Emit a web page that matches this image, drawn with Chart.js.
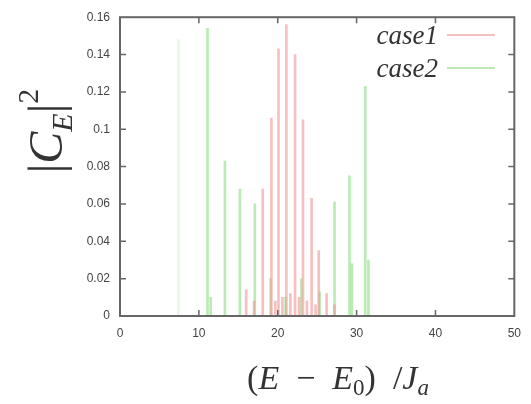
<!DOCTYPE html>
<html>
<head>
<meta charset="utf-8">
<script src="https://cdn.jsdelivr.net/npm/chart.js@4.4.1/dist/chart.umd.min.js"></script>
<style>
  html, body { margin: 0; padding: 0; background: #ffffff; }
  #wrap { width: 531px; height: 404px; position: relative; }
</style>
</head>
<body>
<div id="wrap"><canvas id="c" width="531" height="404"></canvas></div>
<script>
// ---- data ----
const seriesNames = ["case1", "case2"];
const case1X = [16.0, 17.0, 18.1, 19.2, 19.7, 20.1, 20.6, 21.1, 21.6, 22.2, 22.7, 23.2, 23.7, 24.3, 24.8, 25.2, 26.2, 27.2];
const case1Y = [0.014, 0.008, 0.068, 0.106, 0.008, 0.143, 0.010, 0.156, 0.012, 0.140, 0.010, 0.105, 0.008, 0.063, 0.006, 0.035, 0.012, 0.006];
const case2X = [7.4, 11.1, 11.5, 13.3, 15.2, 17.1, 19.1, 21.0, 23.0, 25.3, 27.2, 29.1, 29.4, 31.1, 31.5];
const case2Y = [0.148, 0.154, 0.010, 0.083, 0.068, 0.060, 0.020, 0.010, 0.020, 0.013, 0.061, 0.075, 0.028, 0.123, 0.030];
const xTicks = [0, 10, 20, 30, 40, 50];
const yTicks = [0, 0.02, 0.04, 0.06, 0.08, 0.1, 0.12, 0.14, 0.16];

const toPoints = (xs, ys) => xs.map((x, i) => ({ x: x, y: ys[i] }));

const colors = ["rgba(240,150,150,0.6)", "rgba(150,225,140,0.65)"];
const faintGreen = "rgba(150,225,140,0.22)";
const axisColor = "#666666";
const tickFont = { family: "'Liberation Sans', Arial, sans-serif", size: 12 };

const framePlugin = {
  id: 'frame',
  afterDraw(chart) {
    const ctx = chart.ctx, a = chart.chartArea;
    const xs = chart.scales.x, ys = chart.scales.y;
    ctx.save();
    ctx.strokeStyle = axisColor;
    ctx.lineWidth = 2;
    ctx.strokeRect(a.left, a.top, a.right - a.left, a.bottom - a.top);
    ctx.lineWidth = 1.5;
    const L = 6;
    ctx.beginPath();
    xTicks.forEach(v => {
      const p = xs.getPixelForValue(v);
      if (v === xTicks[0] || v === xTicks[xTicks.length - 1]) return;
      ctx.moveTo(p, a.bottom); ctx.lineTo(p, a.bottom - L);
      ctx.moveTo(p, a.top); ctx.lineTo(p, a.top + L);
    });
    yTicks.forEach(v => {
      const p = ys.getPixelForValue(v);
      if (v === yTicks[0] || v === yTicks[yTicks.length - 1]) return;
      ctx.moveTo(a.left, p); ctx.lineTo(a.left + L, p);
      ctx.moveTo(a.right, p); ctx.lineTo(a.right - L, p);
    });
    ctx.stroke();

    // legend (text left of sample line, gnuplot style)
    const ds = chart.data.datasets;
    const legendRows = [
      { base: 44, lineY: 35 },
      { base: 77, lineY: 68 }
    ];
    ctx.font = "italic 27px 'Liberation Serif', 'Times New Roman', serif";
    ctx.fillStyle = "#333333";
    ctx.textAlign = "right";
    ctx.textBaseline = "alphabetic";
    ds.forEach((d, i) => {
      const r = legendRows[i];
      ctx.fillText(d.label, 438, r.base);
      ctx.strokeStyle = colors[i];
      ctx.lineWidth = 2;
      ctx.beginPath();
      ctx.moveTo(447, r.lineY); ctx.lineTo(495, r.lineY);
      ctx.stroke();
    });

    // y axis title |C_E|^2
    const serif = "'Liberation Serif', 'Times New Roman', serif";
    const ypieces = [
      { t: "|", f: "48px " + serif, dy: 0 },
      { t: "C", f: "italic 48px " + serif, dy: 0 },
      { t: "E", f: "italic 30px " + serif, dy: 10 },
      { t: "|", f: "48px " + serif, dy: 0 },
      { t: "2", f: "30px " + serif, dy: -24 }
    ];
    drawPieces(ctx, ypieces, 62, 131, -Math.PI / 2);

    // x axis title (E - E0)/Ja
    const xpieces = [
      { t: "(", f: "34px " + serif, dy: 0 },
      { t: "E", f: "italic 34px " + serif, dy: 0 },
      { t: "\u2002\u2212\u2002", f: "34px " + serif, dy: 0 },
      { t: "E", f: "italic 34px " + serif, dy: 0 },
      { t: "0", f: "23px " + serif, dy: 6 },
      { t: ")", f: "34px " + serif, dy: 0 },
      { t: "\u2002/", f: "34px " + serif, dy: 0 },
      { t: "J", f: "italic 34px " + serif, dy: 0 },
      { t: "a", f: "italic 23px " + serif, dy: 6 }
    ];
    drawPieces(ctx, xpieces, 338, 389, 0);
    ctx.restore();
  }
};

function drawPieces(ctx, pieces, cx, baseY, rot) {
  ctx.save();
  let total = 0;
  pieces.forEach(p => { ctx.font = p.f; p.w = ctx.measureText(p.t).width; total += p.w; });
  ctx.translate(cx, baseY);
  ctx.rotate(rot);
  ctx.fillStyle = "#333333";
  ctx.textAlign = "left";
  ctx.textBaseline = "alphabetic";
  let x = -total / 2;
  pieces.forEach(p => {
    ctx.font = p.f;
    ctx.fillText(p.t, x, p.dy);
    x += p.w;
  });
  ctx.restore();
}

new Chart(document.getElementById('c'), {
  type: 'bar',
  data: {
    datasets: [
      { label: seriesNames[0], data: toPoints(case1X, case1Y), backgroundColor: colors[0], borderWidth: 0 },
      { label: seriesNames[1], data: toPoints(case2X, case2Y),
        backgroundColor: c => (c.raw && c.raw.x < 9 ? faintGreen : colors[1]), borderWidth: 0 }
    ]
  },
  options: {
    responsive: false,
    animation: false,
    devicePixelRatio: 1,
    barThickness: 2,
    grouped: false,
    layout: { padding: { left: 0, top: 13, right: 16, bottom: 0 } },
    plugins: { legend: { display: false }, tooltip: { enabled: false } },
    scales: {
      x: {
        type: 'linear', min: 0, max: 50, offset: false,
        afterBuildTicks: s => { s.ticks = xTicks.map(v => ({ value: v })); },
        afterFit: s => { s.height = 88; },
        grid: { display: false, drawTicks: false },
        border: { display: false },
        ticks: { color: "#444", font: tickFont, padding: 10, maxRotation: 0, callback: v => String(v) }
      },
      y: {
        type: 'linear', min: 0, max: 0.16,
        afterBuildTicks: s => { s.ticks = yTicks.map(v => ({ value: v })); },
        afterFit: s => { s.width = 120; },
        grid: { display: false, drawTicks: false },
        border: { display: false },
        ticks: { color: "#444", font: tickFont, padding: 10, callback: v => String(+v.toFixed(2)) }
      }
    }
  },
  plugins: [framePlugin]
});
</script>
</body>
</html>
